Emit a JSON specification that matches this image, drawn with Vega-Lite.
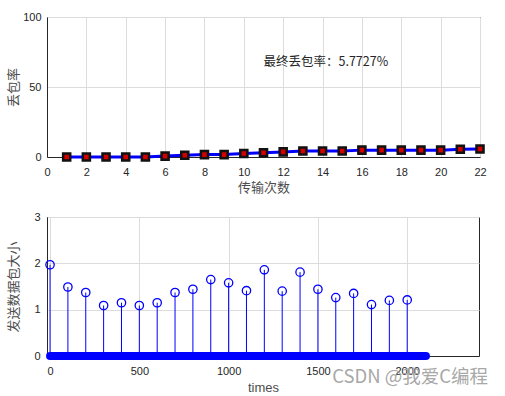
{
  "$schema": "https://vega.github.io/schema/vega-lite/v6.json",
  "background": "white",
  "padding": {"left": 6, "top": 10, "right": 25, "bottom": 5},
  "config": {
    "view": {"stroke": "#262626", "strokeWidth": 1},
    "axis": {
      "labelFont": "Liberation Sans",
      "labelFontSize": 11,
      "labelColor": "#262626",
      "labelOverlap": false,
      "labelFlush": false,
      "domainColor": "#262626",
      "gridColor": "#dcdcdc",
      "ticks": false,
      "titleFont": "Noto Sans CJK SC",
      "titleFontSize": 13,
      "titleFontWeight": "normal",
      "titleColor": "#4d4d4d"
    }
  },
  "spacing": 15,
  "vconcat": [
    {
      "width": 433,
      "height": 140,
      "data": {
        "values": [
          {"n": 1, "rate": 0}, {"n": 2, "rate": 0}, {"n": 3, "rate": 0}, {"n": 4, "rate": 0},
          {"n": 5, "rate": 0}, {"n": 6, "rate": 0.64}, {"n": 7, "rate": 1.28}, {"n": 8, "rate": 1.71},
          {"n": 9, "rate": 1.71}, {"n": 10, "rate": 2.56}, {"n": 11, "rate": 3.0}, {"n": 12, "rate": 3.64},
          {"n": 13, "rate": 4.27}, {"n": 14, "rate": 4.27}, {"n": 15, "rate": 4.27}, {"n": 16, "rate": 4.91},
          {"n": 17, "rate": 4.91}, {"n": 18, "rate": 4.91}, {"n": 19, "rate": 4.91}, {"n": 20, "rate": 4.91},
          {"n": 21, "rate": 5.55}, {"n": 22, "rate": 5.77}
        ]
      },
      "encoding": {
        "x": {
          "field": "n", "type": "quantitative",
          "scale": {"domain": [0, 22], "nice": false},
          "axis": {"values": [0, 2, 4, 6, 8, 10, 12, 14, 16, 18, 20, 22], "tickCount": 12, "title": "传输次数", "labelPadding": 9, "titlePadding": 4}
        },
        "y": {
          "field": "rate", "type": "quantitative",
          "scale": {"domain": [0, 100], "nice": false},
          "axis": {"values": [0, 50, 100], "title": "丢包率", "labelPadding": 6, "titlePadding": 2.5}
        }
      },
      "layer": [
        {
          "mark": {"type": "line", "color": "#0000ff", "strokeWidth": 3}
        },
        {
          "mark": {"type": "point", "shape": "square", "filled": true, "fill": "#d40000", "stroke": "#111111", "strokeWidth": 2.5, "size": 50, "opacity": 1}
        },
        {
          "data": {"values": [{"n": 11, "rate": 68, "label": "最终丢包率：5.7727%"}]},
          "mark": {"type": "text", "align": "left", "baseline": "middle", "font": "Noto Sans CJK SC", "fontSize": 12.5, "color": "#262626"},
          "encoding": {
            "text": {"field": "label"}
          }
        }
      ]
    },
    {
      "width": 432,
      "height": 139,
      "layer": [
        {
          "data": {"name": "stems"},
          "mark": {"type": "rule", "color": "#0000ff", "strokeWidth": 1},
          "encoding": {
            "x": {
              "field": "t", "type": "quantitative",
              "scale": {"domain": [-17, 2402], "nice": false, "zero": false},
              "axis": {"values": [0, 500, 1000, 1500, 2000], "format": "d", "title": "times", "titleFont": "Liberation Sans", "labelPadding": 9, "titlePadding": 5}
            },
            "y": {
              "field": "v", "type": "quantitative",
              "scale": {"domain": [0, 3], "nice": false},
              "axis": {"values": [0, 1, 2, 3], "title": "发送数据包大小", "labelPadding": 7, "titlePadding": 13}
            },
            "y2": {"datum": 0}
          }
        },
        {
          "data": {"values": [{"t0": 0, "t1": 2105}]},
          "mark": {"type": "rule", "color": "#0000ff", "strokeWidth": 8, "strokeCap": "round"},
          "encoding": {
            "x": {"field": "t0", "type": "quantitative"},
            "x2": {"field": "t1"},
            "y": {"datum": 0}
          }
        },
        {
          "data": {"name": "stems"},
          "mark": {"type": "point", "shape": "circle", "filled": false, "stroke": "#0000ff", "strokeWidth": 1.3, "size": 70, "opacity": 1},
          "encoding": {
            "x": {"field": "t", "type": "quantitative"},
            "y": {"field": "v", "type": "quantitative"}
          }
        },
        {
          "data": {"values": [{"x": 1580, "y": -0.45, "label": "CSDN @我爱C编程"}]},
          "mark": {"type": "text", "align": "left", "baseline": "middle", "font": "Noto Sans CJK SC", "fontSize": 18.5, "color": "#a8a8a8", "clip": false},
          "encoding": {
            "x": {"field": "x", "type": "quantitative"},
            "y": {"field": "y", "type": "quantitative"},
            "text": {"field": "label"}
          }
        }
      ]
    }
  ],
  "datasets": {
    "stems": [
      {"t": 0, "v": 1.97}, {"t": 100, "v": 1.49}, {"t": 200, "v": 1.37}, {"t": 300, "v": 1.09},
      {"t": 400, "v": 1.15}, {"t": 500, "v": 1.09}, {"t": 600, "v": 1.15}, {"t": 700, "v": 1.37},
      {"t": 800, "v": 1.44}, {"t": 900, "v": 1.65}, {"t": 1000, "v": 1.58}, {"t": 1100, "v": 1.41},
      {"t": 1200, "v": 1.86}, {"t": 1300, "v": 1.40}, {"t": 1400, "v": 1.81}, {"t": 1500, "v": 1.44},
      {"t": 1600, "v": 1.26}, {"t": 1700, "v": 1.35}, {"t": 1800, "v": 1.11}, {"t": 1900, "v": 1.20},
      {"t": 2000, "v": 1.21}
    ]
  }
}
